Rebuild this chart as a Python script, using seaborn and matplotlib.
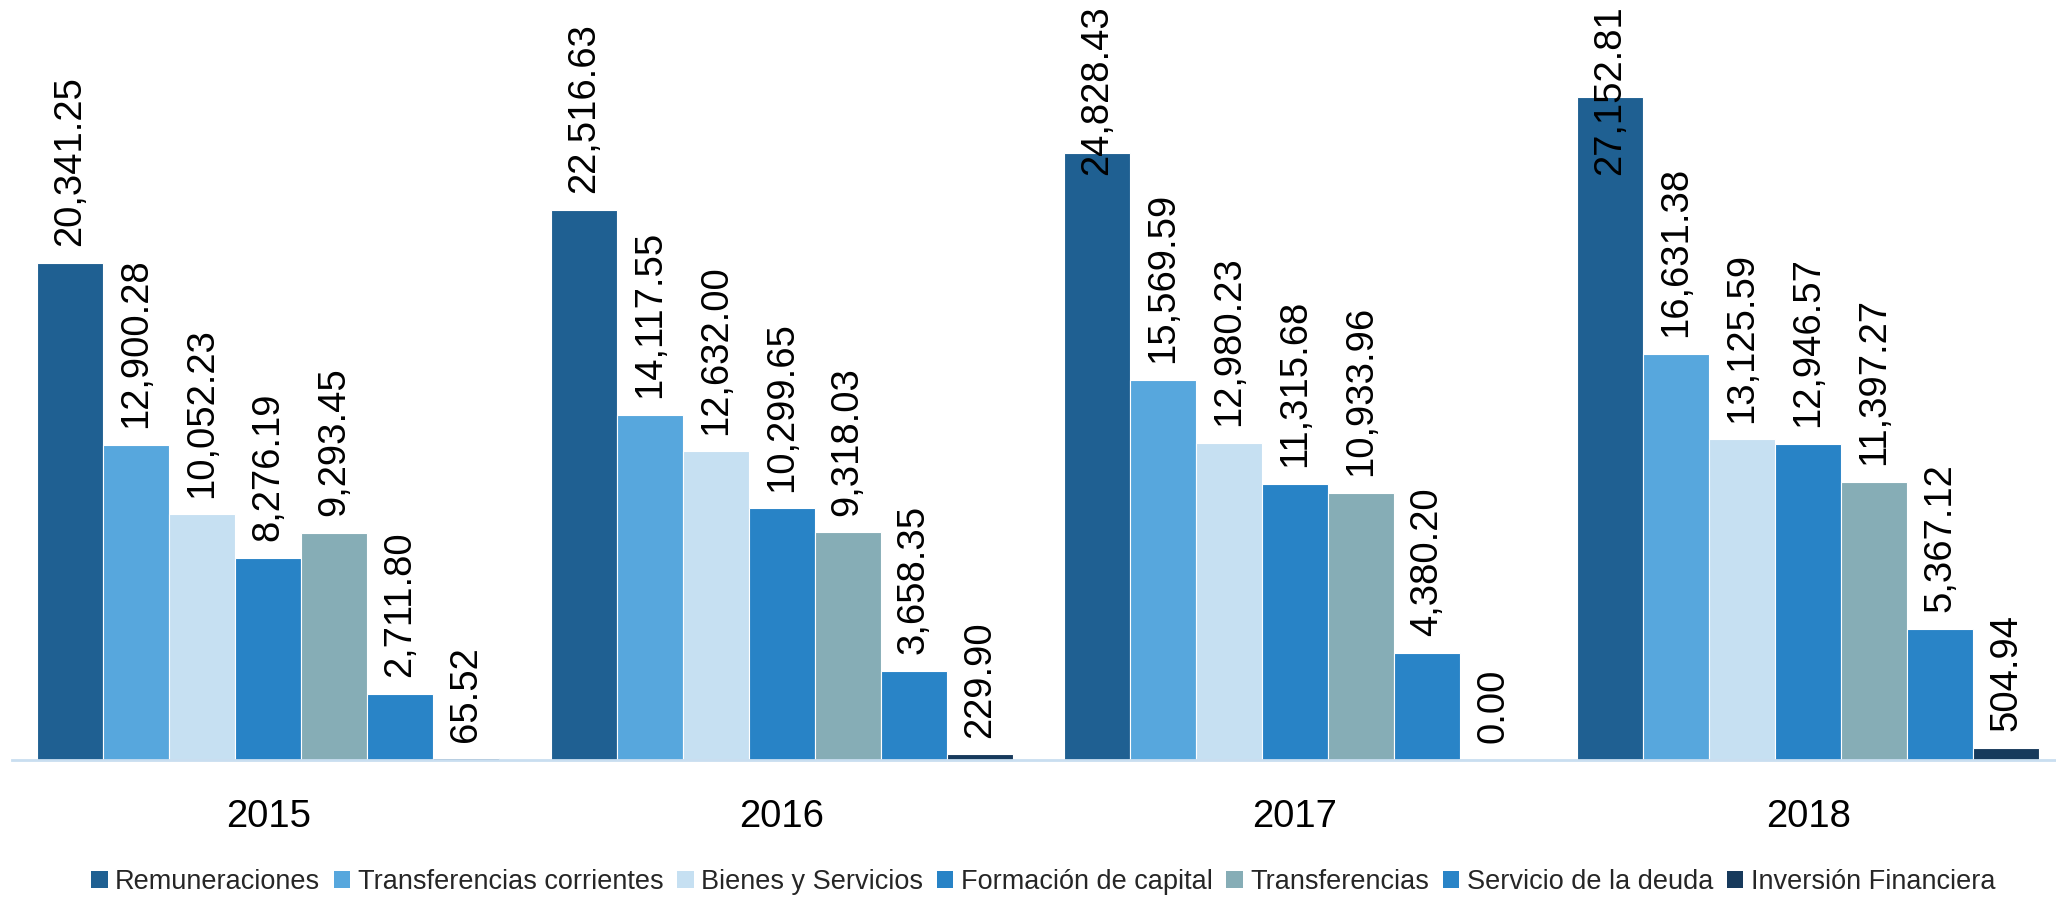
# %%
# import necessary libraries
import pandas as pd
import seaborn as sns
import matplotlib.pyplot as plt
from matplotlib.patches import Patch

# %%
# data
years = ["2015", "2016", "2017", "2018"]
categories = [
    "Remuneraciones",
    "Transferencias corrientes",
    "Bienes y Servicios",
    "Formación de capital",
    "Transferencias",
    "Servicio de la deuda",
    "Inversión Financiera",
]
remuneraciones = [20341.25, 22516.63, 24828.43, 27152.81]
transf_corrientes = [12900.28, 14117.55, 15569.59, 16631.38]
bienes_servicios = [10052.23, 12632.00, 12980.23, 13125.59]
formacion_capital = [8276.19, 10299.65, 11315.68, 12946.57]
transferencias = [9293.45, 9318.03, 10933.96, 11397.27]
servicio_deuda = [2711.80, 3658.35, 4380.20, 5367.12]
inversion_fin = [65.52, 229.90, 0.00, 504.94]

colors = ["#1F6092", "#57A7DD", "#C6E0F2", "#2883C6", "#86ADB6", "#2984C7", "#173A5C"]

series = [remuneraciones, transf_corrientes, bienes_servicios, formacion_capital,
          transferencias, servicio_deuda, inversion_fin]
rows = []
for cat, vals in zip(categories, series):
    for yr, v in zip(years, vals):
        rows.append({"year": yr, "category": cat, "value": v})
df = pd.DataFrame(rows)

# %%
# figure setup
sns.set_style("white")
plt.rcParams["font.family"] = ["Liberation Sans", "DejaVu Sans"]

W, H = 2056, 897
fig = plt.figure(figsize=(W / 100, H / 100), dpi=100)
ax = fig.add_axes([11.7 / W, 1 - 760 / H, 2053.3 / W, 760 / H])

sns.barplot(data=df, x="year", y="value", hue="category", order=years,
            hue_order=categories, palette=colors, saturation=1, width=0.9,
            errorbar=None, edgecolor="white", linewidth=0.8, legend=False, ax=ax)

ymax = 31105
ax.set_ylim(0, ymax)
ax.set_xlim(-0.5, 3.5)
ax.set_yticks([])
ax.set_xlabel("")
ax.set_ylabel("")
for side in ["top", "right", "left"]:
    ax.spines[side].set_visible(False)
ax.spines["bottom"].set_color("#C9DEF0")
ax.spines["bottom"].set_linewidth(2)
ax.tick_params(axis="x", length=0, pad=28, labelsize=27.5, labelcolor="black")

# %%
# value labels, pushed down when they would run off the top
fig.canvas.draw()
renderer = fig.canvas.get_renderer()
for cont in ax.containers:
    for bar in cont:
        v = bar.get_height()
        xc = bar.get_x() + bar.get_width() / 2
        t = ax.annotate(f"{v:,.2f}", (xc, v), xytext=(0, 12), textcoords="offset points",
                        rotation=90, ha="center", va="bottom", fontsize=27.5, color="black")
        bb = t.get_window_extent(renderer)
        if bb.y1 > fig.bbox.y1 - 3:
            t.remove()
            ax.annotate(f"{v:,.2f}", (xc, ymax), xytext=(0, -4), textcoords="offset points",
                        rotation=90, ha="center", va="top", fontsize=27.5, color="black",
                        annotation_clip=False)

# %%
# legend
handles = [Patch(facecolor=c, edgecolor="none") for c in colors]
fig.legend(handles, categories, loc="center", bbox_to_anchor=(1043 / W, 1 - 882 / H),
           ncol=7, frameon=False, fontsize=19.5, handlelength=0.62, handleheight=0.62,
           handletextpad=0.27, columnspacing=0.5, borderpad=0)

fig.savefig("out.png", dpi=100)
